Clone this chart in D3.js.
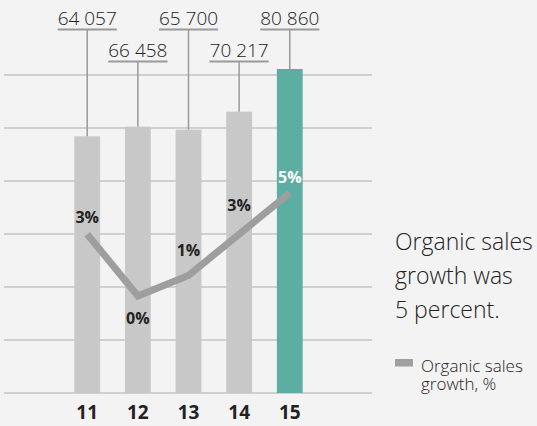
<!DOCTYPE html>
<meta charset="utf-8">
<title>Organic sales growth</title>

<style>

html, body {
  margin: 0;
  padding: 0;
  width: 537px;
  height: 426px;
  background: #f4f3f4;
  overflow: hidden;
}

svg {
  display: block;
}

text {
  font-family: "Open Sans", sans-serif;
  fill: #222;
}

.grid line {
  stroke: #c3c3c3;
  stroke-width: 1.5;
}

.leader {
  stroke: #9a9a9a;
  stroke-width: 1.5;
  fill: none;
}

.value {
  font-size: 19px;
  font-weight: 300;
  text-anchor: middle;
}

.pct {
  font-size: 16px;
  font-weight: 700;
  text-anchor: middle;
}

.year {
  font-size: 19px;
  font-weight: 700;
  text-anchor: middle;
}

.note {
  font-size: 23px;
  font-weight: 300;
}

.legend {
  font-size: 17px;
  font-weight: 300;
}

</style>

<body>
<svg width="537" height="426"></svg>
</body>

<script src="https://cdn.jsdelivr.net/npm/d3@7"></script>
<script>

var years = ['11', '12', '13', '14', '15'];
var sales = [64057, 66458, 65700, 70217, 80860];
var salesLabels = ['64 057', '66 458', '65 700', '70 217', '80 860'];
var growth = [3, 0, 1, 3, 5];
var growthLabels = ['3%', '0%', '1%', '3%', '5%'];

var svg = d3.select('svg');

var x = d3.scaleBand()
    .domain(years)
    .range([49, 328])
    .paddingInner(0.49)
    .paddingOuter(0.5);

var y = d3.scaleLinear()
    .domain([0, 80860])
    .range([393, 69]);

var yGrowth = d3.scaleLinear()
    .domain([0, 5])
    .range([296, 193]);

var gridY = d3.scaleLinear()
    .domain([0, 6])
    .range([393, 75]);

function cx(d) { return x(d) + x.bandwidth() / 2; }

// background grid
svg.append('g')
    .attr('class', 'grid')
  .selectAll('line')
  .data(d3.range(7))
  .enter().append('line')
    .attr('x1', 4)
    .attr('x2', 372)
    .attr('y1', function(d) { return gridY(d); })
    .attr('y2', function(d) { return gridY(d); });

// bars
svg.append('g')
  .selectAll('rect')
  .data(years)
  .enter().append('rect')
    .attr('x', function(d) { return x(d); })
    .attr('width', x.bandwidth())
    .attr('y', function(d, i) { return y(sales[i]); })
    .attr('height', function(d, i) { return y(0) - y(sales[i]); })
    .style('fill', function(d, i) { return i === years.length - 1 ? '#5caea3' : '#c8c8c8'; });

// value labels, alternating high / low, with leader lines to the bar tops
var labels = svg.append('g')
  .selectAll('g')
  .data(years)
  .enter().append('g');

labels.append('text')
    .attr('class', 'value')
    .attr('x', cx)
    .attr('y', function(d, i) { return i % 2 ? 57 : 25; })
    .text(function(d, i) { return salesLabels[i]; });

labels.each(function(d, i) {
  var g = d3.select(this),
      w = g.select('text').node().getComputedTextLength(),
      ly = i % 2 ? 61.5 : 29.5;

  g.append('line')
      .attr('class', 'leader')
      .style('stroke-width', 2)
      .attr('x1', cx(d) - w / 2)
      .attr('x2', cx(d) + w / 2)
      .attr('y1', ly)
      .attr('y2', ly);

  g.append('line')
      .attr('class', 'leader')
      .attr('x1', cx(d))
      .attr('x2', cx(d))
      .attr('y1', ly)
      .attr('y2', y(sales[i]));
});

// growth line
var line = d3.line()
    .x(function(d, i) { return cx(years[i]); })
    .y(function(d) { return yGrowth(d); });

svg.append('path')
    .datum(growth)
    .attr('d', line)
    .style('fill', 'none')
    .style('stroke', '#9e9e9e')
    .style('stroke-width', 7);

// growth labels
var labelDy = [-11, 28, -19, -23, -10];

svg.append('g')
  .selectAll('text')
  .data(growth)
  .enter().append('text')
    .attr('class', 'pct')
    .attr('x', function(d, i) { return cx(years[i]); })
    .attr('y', function(d, i) { return yGrowth(d) + labelDy[i]; })
    .style('fill', function(d, i) { return i === years.length - 1 ? '#fff' : '#222'; })
    .text(function(d, i) { return growthLabels[i]; });

// x axis labels
svg.append('g')
  .selectAll('text')
  .data(years)
  .enter().append('text')
    .attr('class', 'year')
    .attr('x', cx)
    .attr('y', 419)
    .text(function(d) { return d; });

// note on the right
var note = svg.append('text')
    .attr('class', 'note')
    .attr('x', 395)
    .attr('y', 250);

['Organic sales', 'growth was', '5 percent.'].forEach(function(t, i) {
  note.append('tspan')
      .attr('x', 395)
      .attr('dy', i ? 34 : 0)
      .text(t);
});

// legend
svg.append('rect')
    .attr('x', 395)
    .attr('y', 359)
    .attr('width', 18)
    .attr('height', 7.5)
    .style('fill', '#a0a0a0');

var legend = svg.append('text')
    .attr('class', 'legend')
    .attr('x', 421)
    .attr('y', 372);

['Organic sales', 'growth, %'].forEach(function(t, i) {
  legend.append('tspan')
      .attr('x', 421)
      .attr('dy', i ? 18 : 0)
      .text(t);
});

</script>
